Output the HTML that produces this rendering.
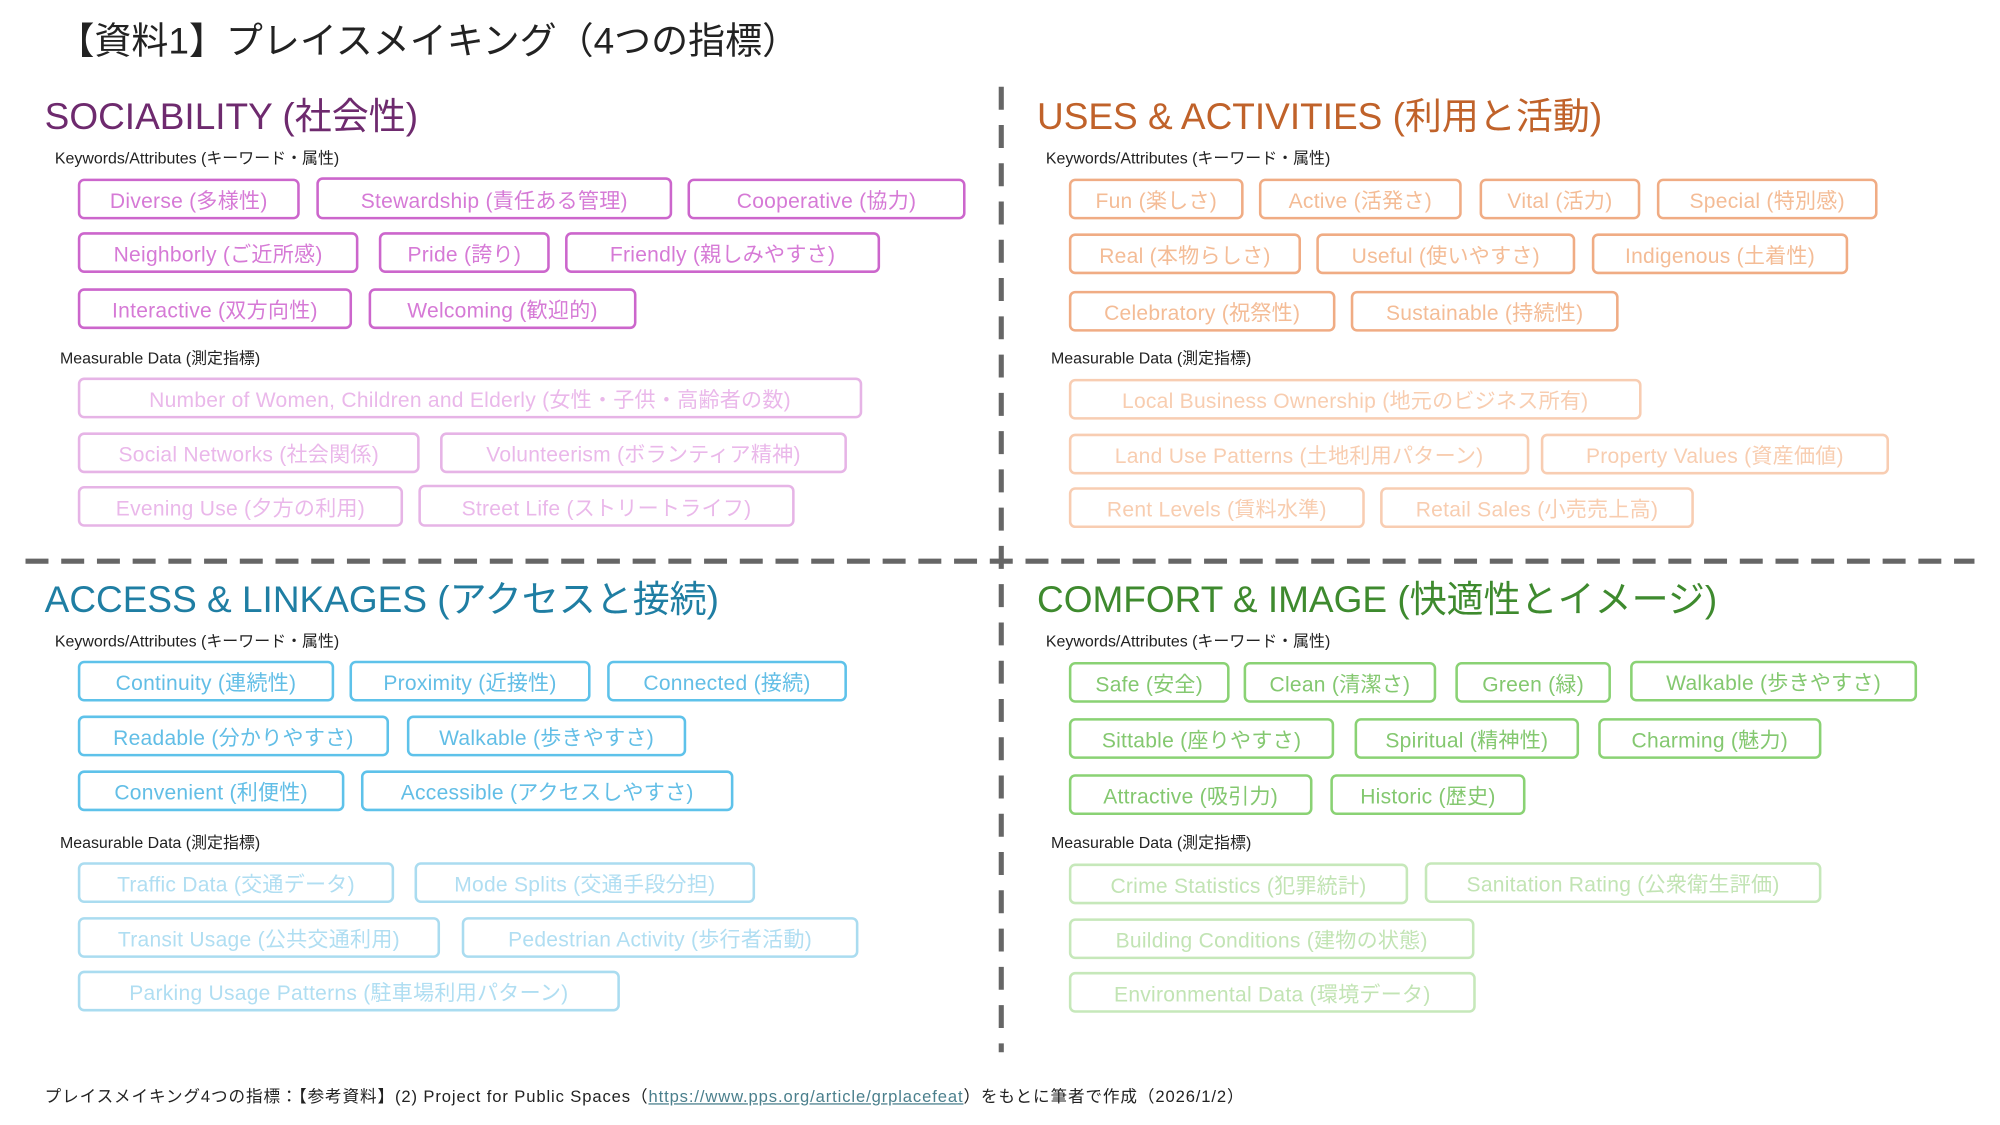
<!DOCTYPE html>
<html><head><meta charset="utf-8">
<style>
html,body{margin:0;padding:0;background:#fff;width:2000px;height:1125px;overflow:hidden}
#w{position:absolute;left:0;top:0;width:1568px;height:882px;transform:scale(1.2755);transform-origin:0 0;font-family:"Liberation Sans","Noto Sans CJK JP",sans-serif}
.p{position:absolute;box-sizing:border-box;border:2.3px solid;border-radius:5px;display:flex;align-items:center;justify-content:center;font-size:16.5px;white-space:nowrap;background:#fff;letter-spacing:0.2px}
.t{position:absolute;white-space:nowrap}
.h{font-size:29px;top:68px}
.k{font-size:12.5px;color:#222}
.s1{border-color:#cc66cc;color:#d67ad6}
.s2{border-color:#e6b4e6;color:#eab8ea}
.u1{border-color:#f0ac84;color:#f4bc96}
.u2{border-color:#f8cdb2;color:#f8cdb0}
.a1{border-color:#5ec2ea;color:#62bee6}
.a2{border-color:#aadcf0;color:#b0def2}
.c1{border-color:#8ad274;color:#84c870}
.c2{border-color:#c6e8ba;color:#c2e4b4}
</style></head><body>
<div id="w">
<div class="t" style="left:45px;top:9px;font-size:29px;color:#222">【資料1】プレイスメイキング（4つの指標）</div>
<svg style="position:absolute;left:0;top:0" width="1568" height="882">
<line x1="785" y1="68" x2="785" y2="825" stroke="#666" stroke-width="4" stroke-dasharray="18,12"/>
<line x1="20" y1="440" x2="1548" y2="440" stroke="#666" stroke-width="4" stroke-dasharray="18,10"/>
</svg>

<div class="t h" style="left:35px;color:#6e2a6e">SOCIABILITY (社会性)</div>
<div class="t h" style="left:813px;color:#c0622a">USES &amp; ACTIVITIES (利用と活動)</div>
<div class="t h" style="left:35px;top:447px;color:#1f7ea3">ACCESS &amp; LINKAGES (アクセスと接続)</div>
<div class="t h" style="left:813px;top:447px;color:#3e8a2e">COMFORT &amp; IMAGE (快適性とイメージ)</div>

<div class="t k" style="left:43px;top:113px">Keywords/Attributes (キーワード・属性)</div>
<div class="t k" style="left:820px;top:113px">Keywords/Attributes (キーワード・属性)</div>
<div class="t k" style="left:43px;top:492px">Keywords/Attributes (キーワード・属性)</div>
<div class="t k" style="left:820px;top:492px">Keywords/Attributes (キーワード・属性)</div>
<div class="t k" style="left:47px;top:270px">Measurable Data (測定指標)</div>
<div class="t k" style="left:824px;top:270px">Measurable Data (測定指標)</div>
<div class="t k" style="left:47px;top:650px">Measurable Data (測定指標)</div>
<div class="t k" style="left:824px;top:650px">Measurable Data (測定指標)</div>

<!-- Sociability -->
<div class="p s1" style="left:61px;top:140px;width:174px;height:32px">Diverse (多様性)</div>
<div class="p s1" style="left:248px;top:139px;width:279px;height:33px">Stewardship (責任ある管理)</div>
<div class="p s1" style="left:539px;top:140px;width:218px;height:32px">Cooperative (協力)</div>
<div class="p s1" style="left:61px;top:182px;width:220px;height:32px">Neighborly (ご近所感)</div>
<div class="p s1" style="left:297px;top:182px;width:134px;height:32px">Pride (誇り)</div>
<div class="p s1" style="left:443px;top:182px;width:247px;height:32px">Friendly (親しみやすさ)</div>
<div class="p s1" style="left:61px;top:226px;width:215px;height:32px">Interactive (双方向性)</div>
<div class="p s1" style="left:289px;top:226px;width:210px;height:32px">Welcoming (歓迎的)</div>
<div class="p s2" style="left:61px;top:296px;width:615px;height:32px">Number of Women, Children and Elderly (女性・子供・高齢者の数)</div>
<div class="p s2" style="left:61px;top:339px;width:268px;height:32px">Social Networks (社会関係)</div>
<div class="p s2" style="left:345px;top:339px;width:319px;height:32px">Volunteerism (ボランティア精神)</div>
<div class="p s2" style="left:61px;top:381px;width:255px;height:32px">Evening Use (夕方の利用)</div>
<div class="p s2" style="left:328px;top:380px;width:295px;height:33px">Street Life (ストリートライフ)</div>

<!-- Uses -->
<div class="p u1" style="left:838px;top:140px;width:137px;height:32px">Fun (楽しさ)</div>
<div class="p u1" style="left:987px;top:140px;width:159px;height:32px">Active (活発さ)</div>
<div class="p u1" style="left:1160px;top:140px;width:126px;height:32px">Vital (活力)</div>
<div class="p u1" style="left:1299px;top:140px;width:173px;height:32px">Special (特別感)</div>
<div class="p u1" style="left:838px;top:183px;width:182px;height:32px">Real (本物らしさ)</div>
<div class="p u1" style="left:1032px;top:183px;width:203px;height:32px">Useful (使いやすさ)</div>
<div class="p u1" style="left:1248px;top:183px;width:201px;height:32px">Indigenous (土着性)</div>
<div class="p u1" style="left:838px;top:228px;width:209px;height:32px">Celebratory (祝祭性)</div>
<div class="p u1" style="left:1059px;top:228px;width:210px;height:32px">Sustainable (持続性)</div>
<div class="p u2" style="left:838px;top:297px;width:449px;height:32px">Local Business Ownership (地元のビジネス所有)</div>
<div class="p u2" style="left:838px;top:340px;width:361px;height:32px">Land Use Patterns (土地利用パターン)</div>
<div class="p u2" style="left:1208px;top:340px;width:273px;height:32px">Property Values (資産価値)</div>
<div class="p u2" style="left:838px;top:382px;width:232px;height:32px">Rent Levels (賃料水準)</div>
<div class="p u2" style="left:1082px;top:382px;width:246px;height:32px">Retail Sales (小売売上高)</div>

<!-- Access -->
<div class="p a1" style="left:61px;top:518px;width:201px;height:32px">Continuity (連続性)</div>
<div class="p a1" style="left:274px;top:518px;width:189px;height:32px">Proximity (近接性)</div>
<div class="p a1" style="left:476px;top:518px;width:188px;height:32px">Connected (接続)</div>
<div class="p a1" style="left:61px;top:561px;width:244px;height:32px">Readable (分かりやすさ)</div>
<div class="p a1" style="left:319px;top:561px;width:219px;height:32px">Walkable (歩きやすさ)</div>
<div class="p a1" style="left:61px;top:604px;width:209px;height:32px">Convenient (利便性)</div>
<div class="p a1" style="left:283px;top:604px;width:292px;height:32px">Accessible (アクセスしやすさ)</div>
<div class="p a2" style="left:61px;top:676px;width:248px;height:32px">Traffic Data (交通データ)</div>
<div class="p a2" style="left:325px;top:676px;width:267px;height:32px">Mode Splits (交通手段分担)</div>
<div class="p a2" style="left:61px;top:719px;width:284px;height:32px">Transit Usage (公共交通利用)</div>
<div class="p a2" style="left:362px;top:719px;width:311px;height:32px">Pedestrian Activity (歩行者活動)</div>
<div class="p a2" style="left:61px;top:761px;width:425px;height:32px">Parking Usage Patterns (駐車場利用パターン)</div>

<!-- Comfort -->
<div class="p c1" style="left:838px;top:519px;width:126px;height:32px">Safe (安全)</div>
<div class="p c1" style="left:975px;top:519px;width:151px;height:32px">Clean (清潔さ)</div>
<div class="p c1" style="left:1141px;top:519px;width:122px;height:32px">Green (緑)</div>
<div class="p c1" style="left:1278px;top:518px;width:225px;height:32px">Walkable (歩きやすさ)</div>
<div class="p c1" style="left:838px;top:563px;width:208px;height:32px">Sittable (座りやすさ)</div>
<div class="p c1" style="left:1062px;top:563px;width:176px;height:32px">Spiritual (精神性)</div>
<div class="p c1" style="left:1253px;top:563px;width:175px;height:32px">Charming (魅力)</div>
<div class="p c1" style="left:838px;top:607px;width:191px;height:32px">Attractive (吸引力)</div>
<div class="p c1" style="left:1043px;top:607px;width:153px;height:32px">Historic (歴史)</div>
<div class="p c2" style="left:838px;top:677px;width:266px;height:32px">Crime Statistics (犯罪統計)</div>
<div class="p c2" style="left:1117px;top:676px;width:311px;height:32px">Sanitation Rating (公衆衛生評価)</div>
<div class="p c2" style="left:838px;top:720px;width:318px;height:32px">Building Conditions (建物の状態)</div>
<div class="p c2" style="left:838px;top:762px;width:319px;height:32px">Environmental Data (環境データ)</div>

<div class="t" style="left:35px;top:849px;font-size:13px;color:#222;letter-spacing:0.7px">プレイスメイキング4つの指標：【参考資料】(2) Project for Public Spaces（<span style="color:#4a7f8c;text-decoration:underline">https://www.pps.org/article/grplacefeat</span>）をもとに筆者で作成（2026/1/2）</div>
</div>
</body></html>
